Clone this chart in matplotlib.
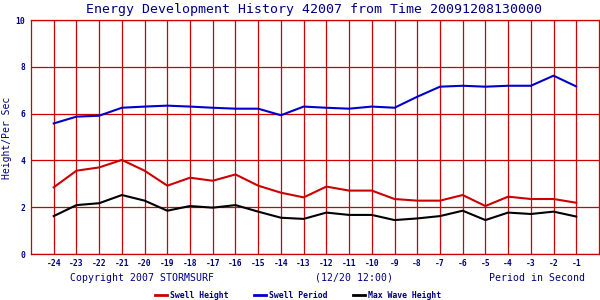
import matplotlib
matplotlib.use("Agg")
import matplotlib.pyplot as plt
from matplotlib.lines import Line2D

# hours before the reference time
hours = list(range(-24, 0))

swell_height = [2.85, 3.56, 3.70, 4.02, 3.56, 2.92, 3.26, 3.13, 3.40, 2.92, 2.62, 2.42,
                2.88, 2.71, 2.71, 2.35, 2.28, 2.28, 2.52, 2.05, 2.45, 2.35, 2.35, 2.19]
swell_period = [5.58, 5.87, 5.91, 6.25, 6.30, 6.34, 6.30, 6.25, 6.21, 6.21, 5.93, 6.30,
                6.25, 6.21, 6.30, 6.25, 6.72, 7.15, 7.19, 7.15, 7.19, 7.19, 7.62, 7.16]
max_wave = [1.62, 2.09, 2.17, 2.52, 2.28, 1.85, 2.05, 1.98, 2.09, 1.81, 1.55, 1.50,
            1.77, 1.67, 1.67, 1.45, 1.52, 1.62, 1.85, 1.45, 1.77, 1.71, 1.81, 1.60]

series = [("Swell Height", swell_height, "#cc0000"),
          ("Swell Period", swell_period, "#0000cc"),
          ("Max Wave Height", max_wave, "#000000")]

navy = "#000080"
grid_red = "#cc0000"
mono = "DejaVu Sans Mono"

fig = plt.figure(figsize=(6, 3), dpi=100)
ax = fig.add_axes([31 / 600, 1 - 254 / 300, 568 / 600, 234 / 300])

for name, vals, col in series:
    ax.plot(hours, vals, color=col, linewidth=1.5)

ax.set_xlim(-25, 0)
ax.set_ylim(0, 10)
ax.set_xticks(hours)
ax.set_xticklabels([str(h) for h in hours])
ax.set_yticks([0, 2, 4, 6, 8, 10])
ax.grid(True, color=grid_red, linewidth=0.9)
ax.set_axisbelow(True)
for s in ax.spines.values():
    s.set_color(grid_red)
    s.set_linewidth(0.9)
ax.tick_params(length=0, labelsize=5.8, labelcolor=navy)
ax.tick_params(axis="x", pad=3.5)
ax.tick_params(axis="y", pad=4)
for lab in ax.get_xticklabels() + ax.get_yticklabels():
    lab.set_fontfamily(mono)
    lab.set_fontweight("bold")

fig.text(314 / 600, 1 - 10 / 300, "Energy Development History 42007 from Time 20091208130000",
         ha="center", va="center", fontsize=9.5, color=navy, family=mono)
fig.text(7 / 600, 1 - 138 / 300, "Height/Per Sec", rotation=90,
         ha="center", va="center", fontsize=7, color=navy, family=mono)
fig.text(70 / 600, 1 - 278 / 300, "Copyright 2007 STORMSURF",
         ha="left", va="center", fontsize=7.1, color=navy, family=mono)
fig.text(354 / 600, 1 - 278 / 300, "(12/20 12:00)",
         ha="center", va="center", fontsize=7.1, color=navy, family=mono)
fig.text(585 / 600, 1 - 278 / 300, "Period in Second",
         ha="right", va="center", fontsize=7.1, color=navy, family=mono)

# legend drawn by hand along the bottom
leg_x = [155, 254, 353]
for (name, vals, col), x0 in zip(series, leg_x):
    y = 1 - 295 / 300
    fig.add_artist(Line2D([x0 / 600, (x0 + 12) / 600], [y, y], color=col,
                          linewidth=2, transform=fig.transFigure))
    fig.text((x0 + 15) / 600, y, name, ha="left", va="center", fontsize=5.9,
             color=navy, family=mono, fontweight="bold")

fig.savefig("out.png", dpi=100)
